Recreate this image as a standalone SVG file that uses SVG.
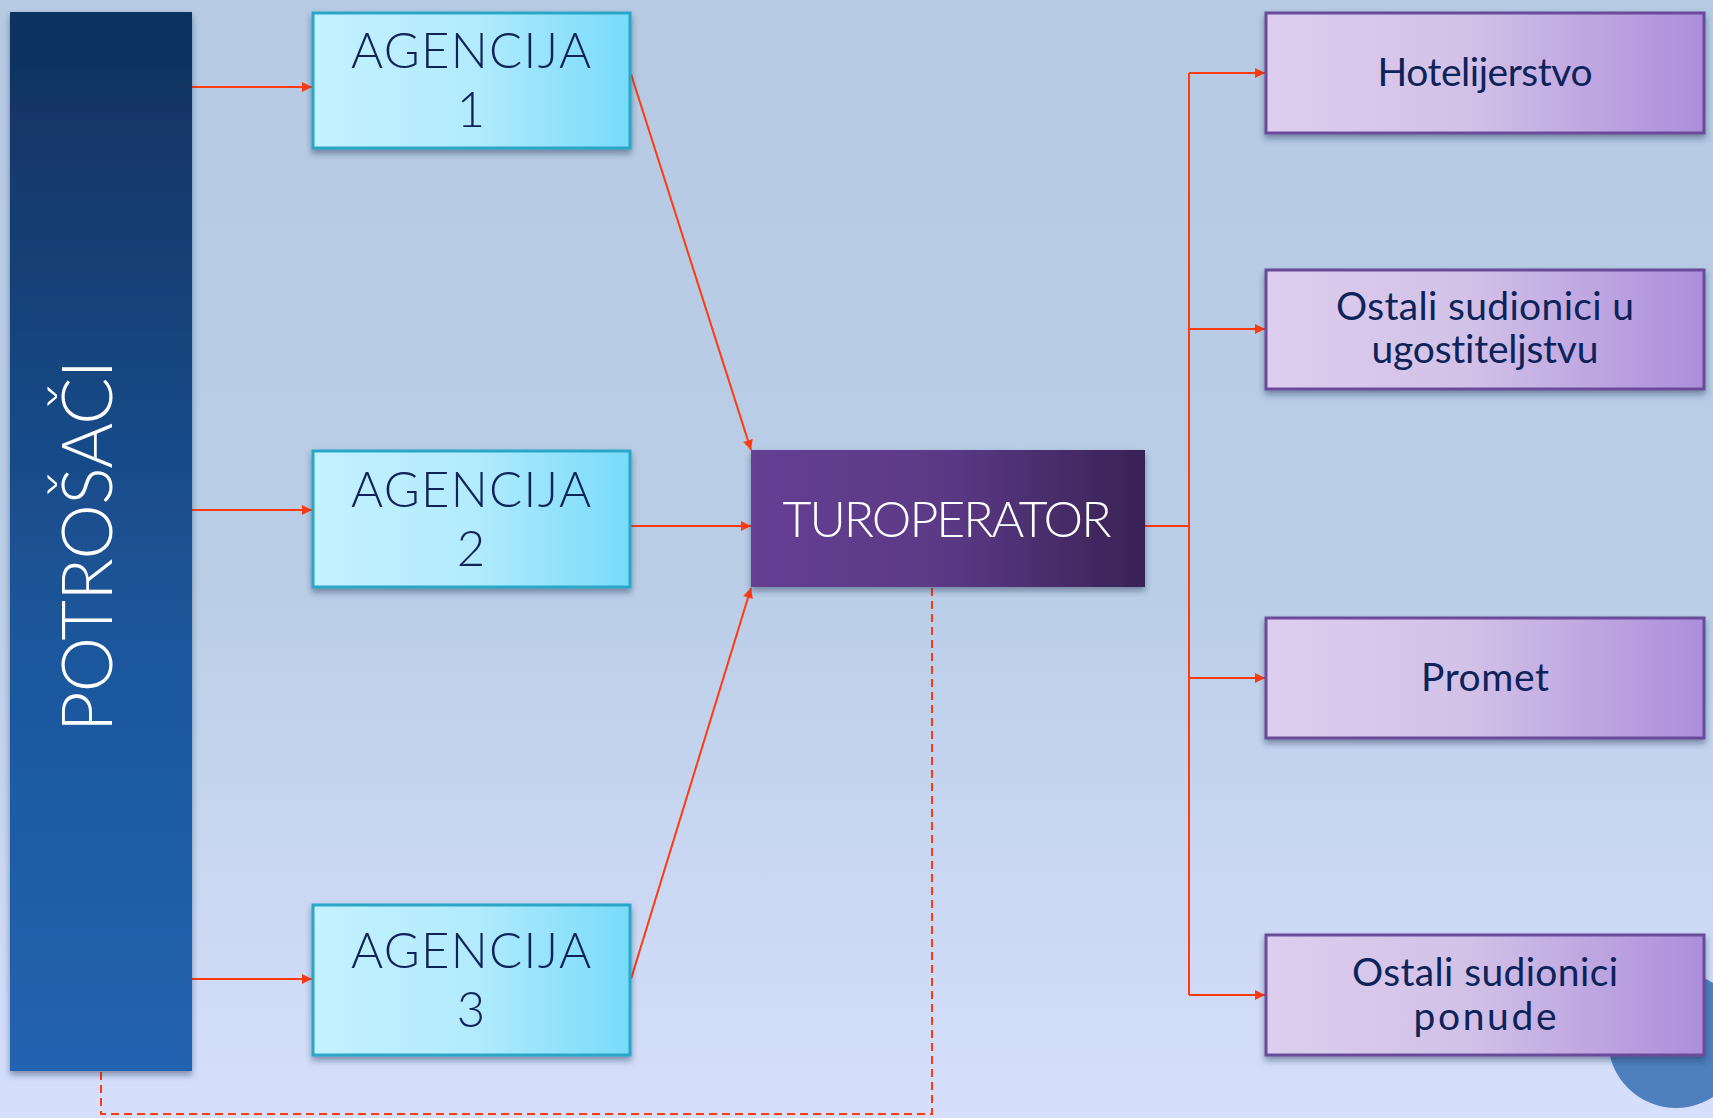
<svg xmlns="http://www.w3.org/2000/svg" width="1713" height="1118" viewBox="0 0 1713 1118">
<style>
.con{stroke:#ff3a10;stroke-width:2;fill:none}
.dash{stroke:#ff3a10;stroke-width:2;fill:none;stroke-dasharray:8 5}
.ag{fill:url(#gAg);stroke:#2aa7c6;stroke-width:3}
.pu{fill:url(#gPu);stroke:#6b4c9a;stroke-width:3}
.t{font-family:Lato,"Liberation Sans","DejaVu Sans",sans-serif;font-weight:300;fill:#0d2359;text-anchor:middle;font-variant-ligatures:none}
.s{font-family:Lato,"Liberation Sans","DejaVu Sans",sans-serif;font-weight:400;fill:#0d2359;text-anchor:middle;font-variant-ligatures:none}
.w{font-family:Lato,"Liberation Sans","DejaVu Sans",sans-serif;font-weight:300;fill:#ffffff;text-anchor:middle;font-variant-ligatures:none}
</style>
<defs>
<linearGradient id="bg" x1="0" y1="0" x2="0" y2="1">
<stop offset="0" stop-color="#b6cae3"/>
<stop offset="0.5" stop-color="#b9cde6"/>
<stop offset="1" stop-color="#d6dffc"/>
</linearGradient>
<linearGradient id="gBar" x1="0" y1="0" x2="0" y2="1">
<stop offset="0" stop-color="#10305d"/>
<stop offset="0.6" stop-color="#1d579c"/>
<stop offset="1" stop-color="#2163b1"/>
</linearGradient>
<linearGradient id="gAg" x1="0" y1="0" x2="1" y2="0">
<stop offset="0" stop-color="#c4f1ff"/>
<stop offset="0.5" stop-color="#b3ebfd"/>
<stop offset="1" stop-color="#78dbfa"/>
</linearGradient>
<linearGradient id="gPu" x1="0" y1="0" x2="1" y2="0">
<stop offset="0" stop-color="#ddcdee"/>
<stop offset="0.45" stop-color="#d3c2e8"/>
<stop offset="1" stop-color="#ac8edb"/>
</linearGradient>
<linearGradient id="gTu" x1="0" y1="0" x2="1" y2="0">
<stop offset="0" stop-color="#653f93"/>
<stop offset="0.5" stop-color="#5a3985"/>
<stop offset="1" stop-color="#392254"/>
</linearGradient>
<filter id="sh" x="-5%" y="-5%" width="110%" height="120%">
<feDropShadow dx="0" dy="4" stdDeviation="3" flood-color="#1a2a50" flood-opacity="0.45"/>
</filter>
<marker id="ar" viewBox="0 0 10 10" refX="10" refY="5" markerWidth="6" markerHeight="5" orient="auto" markerUnits="strokeWidth">
<path d="M0,0 L10,5 L0,10 z" fill="#ff3a10"/>
</marker>
</defs>
<rect x="0" y="0" width="1713" height="1118" fill="url(#bg)"/>
<circle cx="1676" cy="1040" r="68" fill="#4f7fbd"/>

<g id="connectors">
<line class="con" x1="192" y1="87" x2="312" y2="87" marker-end="url(#ar)"/>
<line class="con" x1="192" y1="510" x2="312" y2="510" marker-end="url(#ar)"/>
<line class="con" x1="192" y1="979" x2="312" y2="979" marker-end="url(#ar)"/>
<line class="con" x1="631" y1="74" x2="751" y2="450" marker-end="url(#ar)"/>
<line class="con" x1="631" y1="526" x2="751" y2="526" marker-end="url(#ar)"/>
<line class="con" x1="631" y1="979" x2="751" y2="588" marker-end="url(#ar)"/>
<line class="con" x1="1145" y1="526" x2="1189" y2="526"/>
<line class="con" x1="1189" y1="73" x2="1189" y2="995"/>
<line class="con" x1="1189" y1="73" x2="1265" y2="73" marker-end="url(#ar)"/>
<line class="con" x1="1189" y1="329" x2="1265" y2="329" marker-end="url(#ar)"/>
<line class="con" x1="1189" y1="678" x2="1265" y2="678" marker-end="url(#ar)"/>
<line class="con" x1="1189" y1="995" x2="1265" y2="995" marker-end="url(#ar)"/>
<polyline class="dash" points="932,588 932,1114 101,1114 101,1071"/>
</g>

<g id="potrosaci">
<rect x="10" y="12" width="182" height="1059" fill="url(#gBar)" filter="url(#sh)"/>
<text class="w" x="0" y="0" font-size="70" transform="translate(112,546) rotate(-90)" textLength="372">POTROŠAČI</text>
</g>

<g id="agencija1">
<rect class="ag" x="313" y="13" width="317" height="135" filter="url(#sh)"/>
<text class="t" x="471" y="68" font-size="49" textLength="240">AGENCIJA</text>
<text class="t" x="471" y="127" font-size="49">1</text>
</g>
<g id="agencija2">
<rect class="ag" x="313" y="451" width="317" height="136" filter="url(#sh)"/>
<text class="t" x="471" y="507" font-size="49" textLength="240">AGENCIJA</text>
<text class="t" x="471" y="566" font-size="49">2</text>
</g>
<g id="agencija3">
<rect class="ag" x="313" y="905" width="317" height="150" filter="url(#sh)"/>
<text class="t" x="471" y="968" font-size="49" textLength="240">AGENCIJA</text>
<text class="t" x="471" y="1027" font-size="49">3</text>
</g>

<g id="turoperator">
<rect x="751" y="450" width="394" height="137" fill="url(#gTu)" filter="url(#sh)"/>
<text class="w" x="947" y="537" font-size="50" textLength="329">TUROPERATOR</text>
</g>

<g id="hotelijerstvo">
<rect class="pu" x="1266" y="13" width="438" height="120" filter="url(#sh)"/>
<text class="s" x="1485" y="86" font-size="39" textLength="215">Hotelijerstvo</text>
</g>
<g id="ostali-ugostiteljstvo">
<rect class="pu" x="1266" y="270" width="438" height="119" filter="url(#sh)"/>
<text class="s" x="1485" y="320" font-size="39" textLength="298">Ostali sudionici u</text>
<text class="s" x="1485" y="363" font-size="39" textLength="227">ugostiteljstvu</text>
</g>
<g id="promet">
<rect class="pu" x="1266" y="618" width="438" height="120" filter="url(#sh)"/>
<text class="s" x="1485" y="691" font-size="39" textLength="128">Promet</text>
</g>
<g id="ostali-ponude">
<rect class="pu" x="1266" y="935" width="438" height="120" filter="url(#sh)"/>
<text class="s" x="1485" y="986" font-size="39" textLength="266">Ostali sudionici</text>
<text class="s" x="1485" y="1030" font-size="39" textLength="143">ponude</text>
</g>
</svg>
